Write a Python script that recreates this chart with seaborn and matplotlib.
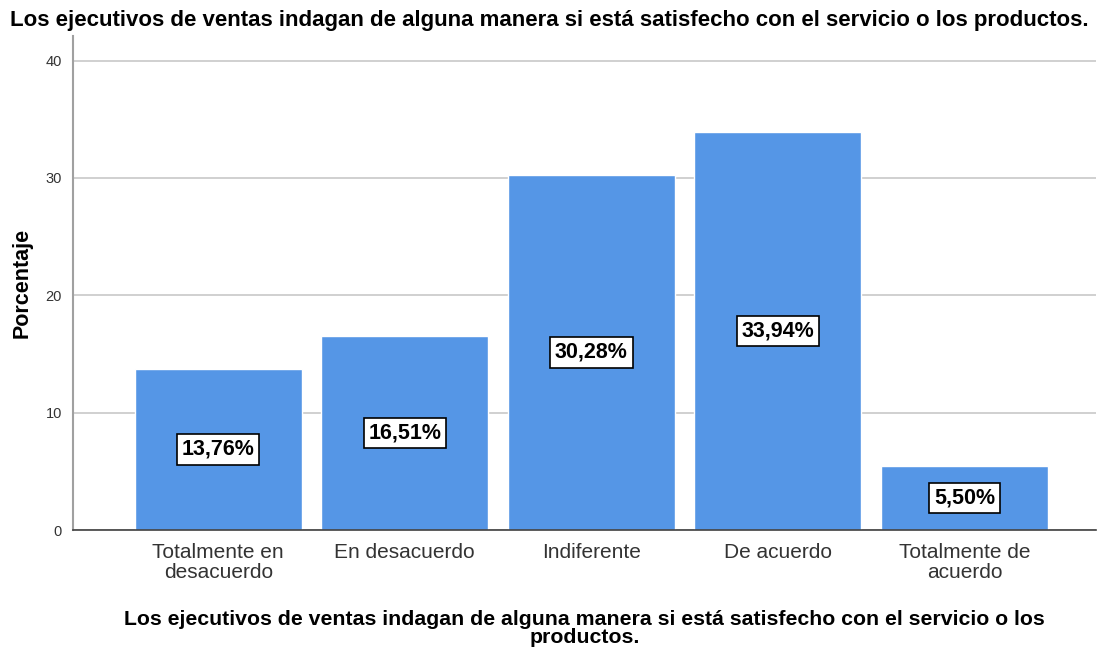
import matplotlib
matplotlib.use("Agg")
import matplotlib.pyplot as plt
import seaborn as sns
import pandas as pd

categorias = ["Totalmente en\ndesacuerdo", "En desacuerdo", "Indiferente", "De acuerdo", "Totalmente de\nacuerdo"]
porcentajes = [13.76, 16.51, 30.28, 33.94, 5.50]
etiquetas = ["13,76%", "16,51%", "30,28%", "33,94%", "5,50%"]
y_ticks = [0, 10, 20, 30, 40]

titulo = "Los ejecutivos de ventas indagan de alguna manera si está satisfecho con el servicio o los productos."
x_titulo = "Los ejecutivos de ventas indagan de alguna manera si está satisfecho con el servicio o los\nproductos."

sns.set_style("white")
plt.rcParams["font.family"] = ["Liberation Sans", "DejaVu Sans"]

df = pd.DataFrame({"categoria": categorias, "porcentaje": porcentajes})

fig = plt.figure(figsize=(10.99, 6.52), dpi=100)
ax = fig.add_axes([0.0664, 0.187, 0.9306, 0.758])
sns.barplot(data=df, x="categoria", y="porcentaje", color="#5596E6", saturation=1, width=0.894, ax=ax)

ax.set_xlim(-0.779, 4.704)
ax.set_ylim(0, 42.1)
ax.set_yticks(y_ticks)
ax.yaxis.grid(True, color="#c8c8c8", linewidth=1.2)
ax.set_axisbelow(True)
for s in ["top", "right"]:
    ax.spines[s].set_visible(False)
ax.spines["left"].set_color("#a0a0a0")
ax.spines["left"].set_linewidth(1.5)
ax.spines["bottom"].set_color("#404040")
ax.spines["bottom"].set_linewidth(1.2)
ax.tick_params(axis="y", length=0, labelsize=10.5, colors="#333333", pad=8)
ax.tick_params(axis="x", length=0, labelsize=15, colors="#333333", pad=9)
for lab in ax.get_xticklabels():
    lab.set_linespacing(1.1)

ax.bar_label(ax.containers[0], labels=etiquetas, label_type="center", fontsize=15.5, fontweight="bold",
             color="black",
             bbox=dict(boxstyle="square,pad=0.22", facecolor="white", edgecolor="black", linewidth=1.2))

ax.set_ylabel("Porcentaje", fontsize=15.5, fontweight="bold", color="black", labelpad=9)
ax.set_xlabel(x_titulo, fontsize=15.3, fontweight="bold", color="black", labelpad=20, linespacing=0.95)
fig.suptitle(titulo, fontsize=16, fontweight="bold", color="black", x=0.5, y=0.985)

fig.savefig("out.png", dpi=100)
